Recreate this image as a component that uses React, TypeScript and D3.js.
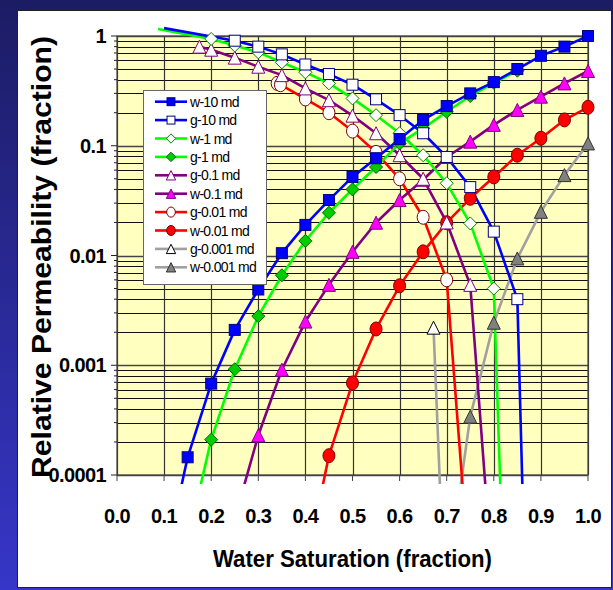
import * as d3 from 'd3';

type Pt = [number, number];

// relative permeability curves, [Sw, kr]
const w10: Pt[] = [[0.10, 1.5e-5], [0.15, 1.45e-4], [0.20, 6.8e-4], [0.25, 0.0021], [0.30, 0.0049], [0.35, 0.0105], [0.40, 0.019], [0.45, 0.032], [0.50, 0.052], [0.55, 0.077], [0.60, 0.115], [0.65, 0.172], [0.70, 0.23], [0.75, 0.30], [0.80, 0.38], [0.85, 0.50], [0.90, 0.66], [0.95, 0.80], [1.0, 1.0]];
const g10: Pt[] = [[0.10, 1.18], [0.25, 0.906], [0.30, 0.80], [0.35, 0.68], [0.40, 0.55], [0.45, 0.45], [0.50, 0.36], [0.55, 0.265], [0.60, 0.19], [0.65, 0.13], [0.70, 0.079], [0.75, 0.042], [0.80, 0.0165], [0.85, 0.0040], [0.90, 4e-11]];
const w1: Pt[] = [[0.15, 2.5e-5], [0.20, 2.1e-4], [0.25, 9.2e-4], [0.30, 0.0028], [0.35, 0.0066], [0.40, 0.0136], [0.45, 0.0245], [0.50, 0.040], [0.55, 0.064], [0.60, 0.105], [0.65, 0.144], [0.70, 0.204], [0.75, 0.284], [0.80, 0.375], [0.85, 0.483]];
const g1: Pt[] = [[0.087, 1.16], [0.20, 0.94], [0.25, 0.82], [0.30, 0.71], [0.35, 0.575], [0.40, 0.467], [0.45, 0.37], [0.50, 0.27], [0.55, 0.19], [0.60, 0.13], [0.65, 0.082], [0.70, 0.0455], [0.75, 0.0196], [0.80, 0.0050], [0.85, 1.5e-9]];
const g01: Pt[] = [[0.175, 0.80], [0.20, 0.75], [0.25, 0.635], [0.30, 0.525], [0.35, 0.44], [0.40, 0.333], [0.45, 0.26], [0.50, 0.188], [0.55, 0.13], [0.60, 0.082], [0.65, 0.05], [0.70, 0.02], [0.75, 0.0054], [0.80, 7.7e-6]];
const w01: Pt[] = [[0.25, 4e-5], [0.30, 2.3e-4], [0.35, 9.1e-4], [0.40, 0.0025], [0.45, 0.0054], [0.50, 0.0108], [0.55, 0.0199], [0.60, 0.032], [0.65, 0.049], [0.70, 0.079], [0.75, 0.109], [0.80, 0.155], [0.85, 0.212], [0.90, 0.28], [0.95, 0.37], [1.0, 0.48]];
const g001: Pt[] = [[0.34, 0.37], [0.347, 0.36], [0.40, 0.267], [0.45, 0.20], [0.50, 0.136], [0.55, 0.087], [0.60, 0.050], [0.65, 0.0223], [0.70, 0.006], [0.75, 1e-5]];
const w001: Pt[] = [[0.40, 1.4e-5], [0.45, 1.5e-4], [0.50, 6.9e-4], [0.55, 0.00214], [0.60, 0.0053], [0.65, 0.0108], [0.70, 0.0199], [0.75, 0.0332], [0.80, 0.052], [0.85, 0.082], [0.90, 0.117], [0.95, 0.172], [1.0, 0.224]];
const g0001: Pt[] = [[0.672, 0.0022], [0.70, 2.5e-6]];
const w0001: Pt[] = [[0.70, 1e-5], [0.75, 3.4e-4], [0.80, 0.00244], [0.85, 0.0094], [0.90, 0.025], [0.95, 0.054], [1.0, 0.105]];

const xTicks = [0, 0.1, 0.2, 0.3, 0.4, 0.5, 0.6, 0.7, 0.8, 0.9, 1.0];
const yTicks = [1, 0.1, 0.01, 0.001, 0.0001];
const yTickLabels = ['1', '0.1', '0.01', '0.001', '0.0001'];

type Shape = 'square' | 'diamond' | 'triangle' | 'circle';
interface Series { name: string; data: Pt[]; line: string; shape: Shape; fill: string; edge: string; }

// legend order (labels as printed in the original)
const series: Series[] = [
  { name: 'w-10 md', data: w10, line: '#0000ff', shape: 'square', fill: '#0000ff', edge: '#000080' },
  { name: 'g-10 md', data: g10, line: '#0000ff', shape: 'square', fill: '#ffffff', edge: '#000080' },
  { name: 'w-1 md', data: g1, line: '#00ff00', shape: 'diamond', fill: '#ffffff', edge: '#008000' },
  { name: 'g-1 md', data: w1, line: '#00ff00', shape: 'diamond', fill: '#00cc00', edge: '#006600' },
  { name: 'g-0.1 md', data: g01, line: '#800080', shape: 'triangle', fill: '#ffffff', edge: '#800080' },
  { name: 'w-0.1 md', data: w01, line: '#800080', shape: 'triangle', fill: '#ff00ff', edge: '#800080' },
  { name: 'g-0.01 md', data: g001, line: '#ff0000', shape: 'circle', fill: '#ffffff', edge: '#800000' },
  { name: 'w-0.01 md', data: w001, line: '#ff0000', shape: 'circle', fill: '#ff0000', edge: '#800000' },
  { name: 'g-0.001 md', data: g0001, line: '#a0a0a0', shape: 'triangle', fill: '#ffffff', edge: '#000000' },
  { name: 'w-0.001 md', data: w0001, line: '#a0a0a0', shape: 'triangle', fill: '#808080', edge: '#333333' },
];

const W = 613, H = 590;
const L = 117, R = 588, T = 36, B = 475;
const FONT = "'Liberation Sans', Arial, sans-serif";

function Marker({ s, cx, cy, k = 1 }: { s: Series; cx: number; cy: number; k?: number }) {
  const p = { fill: s.fill, stroke: s.edge, strokeWidth: 1 };
  if (s.shape === 'square') {
    const h = 5.5 * k;
    return <rect x={cx - h} y={cy - h} width={2 * h} height={2 * h} {...p} />;
  }
  if (s.shape === 'diamond') {
    const h = 6.5 * k;
    return <path d={`M${cx},${cy - h}L${cx + h},${cy}L${cx},${cy + h}L${cx - h},${cy}Z`} {...p} />;
  }
  if (s.shape === 'triangle') {
    const w = 6.5 * k, h = 6.5 * k;
    return <path d={`M${cx},${cy - h}L${cx + w},${cy + h}L${cx - w},${cy + h}Z`} {...p} />;
  }
  return <ellipse cx={cx} cy={cy} rx={6 * k} ry={7 * k} {...p} />;
}

export default function App() {
  const x = d3.scaleLinear().domain([0, 1]).range([L, R]);
  const y = d3.scaleLog().domain([1e-4, 1]).range([B, T]);
  const line = d3.line<Pt>().x(d => x(d[0])).y(d => y(d[1]));

  const minor: number[] = [];
  for (let e = -4; e < 0; e++) {
    for (let m = 2; m <= 9; m++) minor.push(m * Math.pow(10, e));
  }

  // draw order: later legend entries first so blue sits on top
  const drawOrder = [...series].reverse();

  return (
    <svg width={W} height={H} style={{ position: 'absolute', left: 0, top: 0 }} fontFamily={FONT}>
      <defs>
        <linearGradient id="bg" x1="0" y1="0" x2="0" y2="1">
          <stop offset="0" stopColor="#1c1c64" />
          <stop offset="1" stopColor="#3636c8" />
        </linearGradient>
        <clipPath id="plotClip">
          <rect x={L} y={0} width={R - L + 12} height={484} />
        </clipPath>
      </defs>
      <rect width={W} height={H} fill="url(#bg)" />
      <rect x={17.5} y={10.5} width={594} height={577} fill="#ffffff" stroke="#222" />

      {/* plot area */}
      <rect x={L} y={T} width={R - L} height={B - T} fill="#ffffc0" />
      {minor.map(v => (
        <line key={'hm' + v} x1={L} x2={R} y1={Math.round(y(v)) + 0.5} y2={Math.round(y(v)) + 0.5} stroke="#111" />
      ))}
      {yTicks.map(v => (
        <line key={'hM' + v} x1={L} x2={R} y1={Math.round(y(v)) + 0.5} y2={Math.round(y(v)) + 0.5} stroke="#444" strokeWidth={1.5} />
      ))}
      {xTicks.map(v => (
        <line key={'v' + v} x1={Math.round(x(v)) + 0.5} x2={Math.round(x(v)) + 0.5} y1={T} y2={B} stroke="#333" strokeWidth={1.2} />
      ))}
      <rect x={L} y={T} width={R - L} height={B - T} fill="none" stroke="#444" strokeWidth={1.2} />

      {/* y axis ticks and labels */}
      {yTicks.map((v, i) => (
        <g key={'yt' + v}>
          <line x1={L - 6} x2={L} y1={y(v)} y2={y(v)} stroke="#222" />
          <text x={106} y={y(v) + 7} textAnchor="end" fontSize={20} fontWeight="bold" letterSpacing={-0.6}>{yTickLabels[i]}</text>
        </g>
      ))}
      {minor.map(v => (
        <line key={'ym' + v} x1={L - 3} x2={L} y1={y(v)} y2={y(v)} stroke="#222" />
      ))}

      {/* x axis ticks and labels */}
      {xTicks.map(v => (
        <g key={'xt' + v}>
          <line x1={x(v)} x2={x(v)} y1={B} y2={B + 6} stroke="#444" />
          <text x={x(v)} y={523} textAnchor="middle" fontSize={20} fontWeight="bold" letterSpacing={-0.6}>{v.toFixed(1)}</text>
        </g>
      ))}

      {/* curves */}
      <g clipPath="url(#plotClip)">
        {drawOrder.map(s => (
          <path key={'l' + s.name} d={line(s.data) || undefined} fill="none" stroke={s.line} strokeWidth={2.6} strokeLinejoin="round" />
        ))}
      </g>
      {drawOrder.map(s => (
        <g key={'m' + s.name}>
          {s.data.filter(d => d[1] >= 1e-4 && d[1] <= 1.0001).map((d, i) => (
            <Marker key={i} s={s} cx={x(d[0])} cy={y(d[1])} />
          ))}
        </g>
      ))}

      {/* legend */}
      <rect x={143.5} y={90.5} width={123} height={194} fill="#ffffff" stroke="#666" />
      {series.map((s, i) => {
        const cy = 101.7 + i * 18.4;
        return (
          <g key={'lg' + s.name}>
            <line x1={155} x2={187} y1={cy} y2={cy} stroke={s.line} strokeWidth={2.6} />
            <Marker s={s} cx={171} cy={cy} k={0.72} />
            <text x={190} y={cy + 5} fontSize={14} letterSpacing={-0.7}>{s.name}</text>
          </g>
        );
      })}

      {/* axis titles */}
      <text x={213} y={567} fontSize={24} fontWeight="bold" textLength={279} lengthAdjust="spacingAndGlyphs">Water Saturation (fraction)</text>
      <text transform="translate(51,478) rotate(-90)" x={0} y={0} fontSize={28} fontWeight="bold" textLength={442} lengthAdjust="spacingAndGlyphs">Relative Permeability (fraction)</text>
    </svg>
  );
}
